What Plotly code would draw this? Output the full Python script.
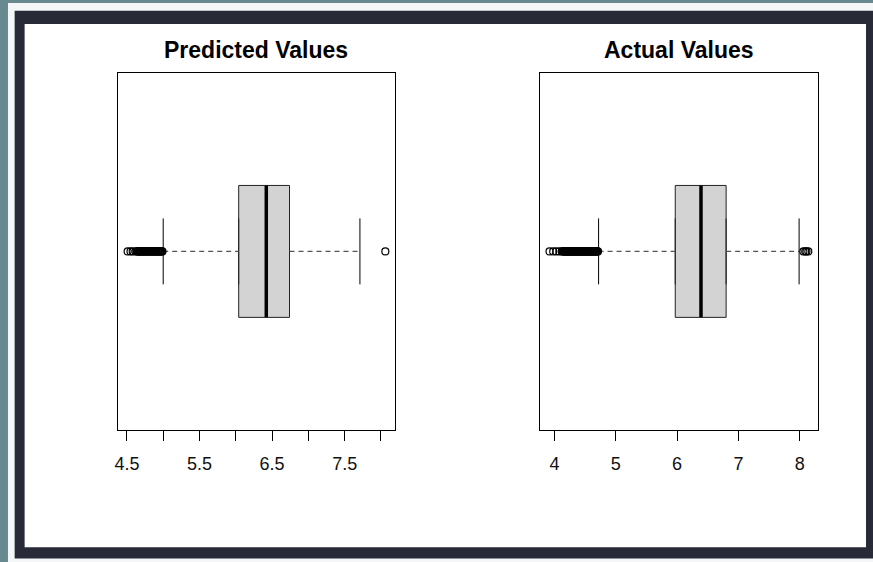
import plotly.graph_objects as go

W, H = 873, 562

# ---------------- data ----------------
panel_titles = ["Predicted Values", "Actual Values"]

pred_q1, pred_median, pred_q3 = 6.04, 6.42, 6.74
pred_lower_whisker, pred_upper_whisker = 5.00, 7.71
pred_outliers = [4.51, 4.55, 4.58, 4.62, 4.64, 4.65, 4.66, 4.67, 4.68, 4.69,
                 4.70, 4.71, 4.72, 4.73, 4.74, 4.75, 4.76, 4.77, 4.78, 4.79,
                 4.80, 4.81, 4.82, 4.83, 4.84, 4.85, 4.86, 4.87, 4.88, 4.89,
                 4.90, 4.91, 4.92, 4.93, 4.94, 4.95, 4.96, 4.97, 4.98, 4.99,
                 8.06]

act_q1, act_median, act_q3 = 5.97, 6.39, 6.80
act_lower_whisker, act_upper_whisker = 4.72, 7.99
act_outliers = [3.92, 3.98, 4.03, 4.08, 4.12, 4.14, 4.15, 4.16, 4.17, 4.18,
                4.19, 4.20, 4.21, 4.22, 4.23, 4.24, 4.25, 4.26, 4.27, 4.28,
                4.29, 4.30, 4.31, 4.32, 4.33, 4.34, 4.35, 4.36, 4.37, 4.38,
                4.39, 4.40, 4.41, 4.42, 4.43, 4.44, 4.45, 4.46, 4.47, 4.48,
                4.49, 4.50, 4.51, 4.52, 4.53, 4.54, 4.55, 4.56, 4.57, 4.58,
                4.59, 4.60, 4.61, 4.62, 4.63, 4.64, 4.65, 4.66, 4.67, 4.68,
                4.69, 4.70, 4.71, 8.06, 8.09, 8.11, 8.14]

pred_tickvals = [4.5, 5.0, 5.5, 6.0, 6.5, 7.0, 7.5, 8.0]
pred_ticktext = ["4.5", "", "5.5", "", "6.5", "", "7.5", ""]
act_tickvals = [4, 5, 6, 7, 8]
act_ticktext = ["4", "5", "6", "7", "8"]

pred_range = [4.372, 8.195]
act_range = [3.767, 8.293]

# ---------------- layout helpers ----------------
def px_x(p):
    return p / W

def px_y(p):
    return 1 - p / H

FONT = "Liberation Sans, Arial, Helvetica, sans-serif"
BOX_HALF = 0.2
STAPLE_HALF = 0.1

fig = go.Figure()

panels = [
    dict(q1=pred_q1, med=pred_median, q3=pred_q3, lw=pred_lower_whisker,
         uw=pred_upper_whisker, out=pred_outliers, xa="x", ya="y"),
    dict(q1=act_q1, med=act_median, q3=act_q3, lw=act_lower_whisker,
         uw=act_upper_whisker, out=act_outliers, xa="x2", ya="y2"),
]

for p in panels:
    # whiskers (dashed)
    fig.add_trace(go.Scatter(
        x=[p["lw"], p["q1"], None, p["q3"], p["uw"]], y=[0, 0, None, 0, 0],
        mode="lines", line=dict(color="#555555", width=1.2, dash="5px,4px"),
        xaxis=p["xa"], yaxis=p["ya"], hoverinfo="skip", showlegend=False))
    # staples
    fig.add_trace(go.Scatter(
        x=[p["lw"], p["lw"], None, p["uw"], p["uw"]],
        y=[-STAPLE_HALF, STAPLE_HALF, None, -STAPLE_HALF, STAPLE_HALF],
        mode="lines", line=dict(color="black", width=1),
        xaxis=p["xa"], yaxis=p["ya"], hoverinfo="skip", showlegend=False))
    # box
    fig.add_trace(go.Box(
        q1=[p["q1"]], median=[p["med"]], q3=[p["q3"]],
        lowerfence=[p["q1"]], upperfence=[p["q3"]],
        y=[0], orientation="h", width=2 * BOX_HALF,
        fillcolor="#d3d3d3", line=dict(color="#222222", width=1),
        boxpoints=False, xaxis=p["xa"], yaxis=p["ya"], showlegend=False))
    # thick median
    fig.add_trace(go.Scatter(
        x=[p["med"], p["med"]], y=[-BOX_HALF, BOX_HALF],
        mode="lines", line=dict(color="black", width=3.5),
        xaxis=p["xa"], yaxis=p["ya"], hoverinfo="skip", showlegend=False))
    # outliers
    fig.add_trace(go.Scatter(
        x=p["out"], y=[0] * len(p["out"]), mode="markers",
        marker=dict(symbol="circle-open", size=7, color="black",
                    line=dict(color="black", width=1.2)),
        xaxis=p["xa"], yaxis=p["ya"], showlegend=False))

# panel geometry in pixels
left_px = [115.0, 393.5]
right_px = [539.0, 817.5]
top_px, bottom_px = 73.3, 429.5

axis_common = dict(showline=True, mirror=True, linecolor="black", linewidth=1,
                   showgrid=False, zeroline=False)

xaxis_common = dict(axis_common, ticks="outside", ticklen=10, tickwidth=1,
                    tickcolor="black", ticklabelstandoff=8,
                    tickfont=dict(family=FONT, size=18, color="#111111"))

yaxis_common = dict(axis_common, showticklabels=False, ticks="",
                    range=[-0.54, 0.54], fixedrange=True)

shapes = [
    dict(type="rect", xref="paper", yref="paper", layer="below",
         x0=px_x(5), x1=px_x(W), y0=px_y(H), y1=px_y(3),
         fillcolor="#f4f6f7", line=dict(width=0)),
    dict(type="rect", xref="paper", yref="paper", layer="below",
         x0=px_x(11.7), x1=px_x(W), y0=px_y(558.5), y1=px_y(10.7),
         fillcolor="#282b37", line=dict(width=0)),
    dict(type="rect", xref="paper", yref="paper", layer="below",
         x0=px_x(21.7), x1=px_x(866), y0=px_y(547.3), y1=px_y(24),
         fillcolor="white", line=dict(width=0)),
]

annotations = []
for title, (a, b) in zip(panel_titles, [left_px, right_px]):
    annotations.append(dict(
        text="<b>%s</b>" % title, xref="paper", yref="paper",
        x=px_x((a + b) / 2), y=px_y(50), xanchor="center", yanchor="middle",
        showarrow=False, font=dict(family=FONT, size=23, color="black")))

fig.update_layout(
    width=W, height=H,
    margin=dict(l=0, r=0, t=0, b=0),
    paper_bgcolor="#688990",
    plot_bgcolor="white",
    showlegend=False,
    shapes=shapes,
    annotations=annotations,
    xaxis=dict(xaxis_common, domain=[px_x(left_px[0]), px_x(left_px[1])],
               range=pred_range, tickvals=pred_tickvals, ticktext=pred_ticktext,
               anchor="y"),
    yaxis=dict(yaxis_common, domain=[px_y(bottom_px), px_y(top_px)], anchor="x"),
    xaxis2=dict(xaxis_common, domain=[px_x(right_px[0]), px_x(right_px[1])],
                range=act_range, tickvals=act_tickvals, ticktext=act_ticktext,
                anchor="y2"),
    yaxis2=dict(yaxis_common, domain=[px_y(bottom_px), px_y(top_px)], anchor="x2"),
)

fig.write_html("out.html",
               config={"displayModeBar": False},
               post_script="document.body.style.margin='0';"
                           "document.body.style.overflow='hidden';")
